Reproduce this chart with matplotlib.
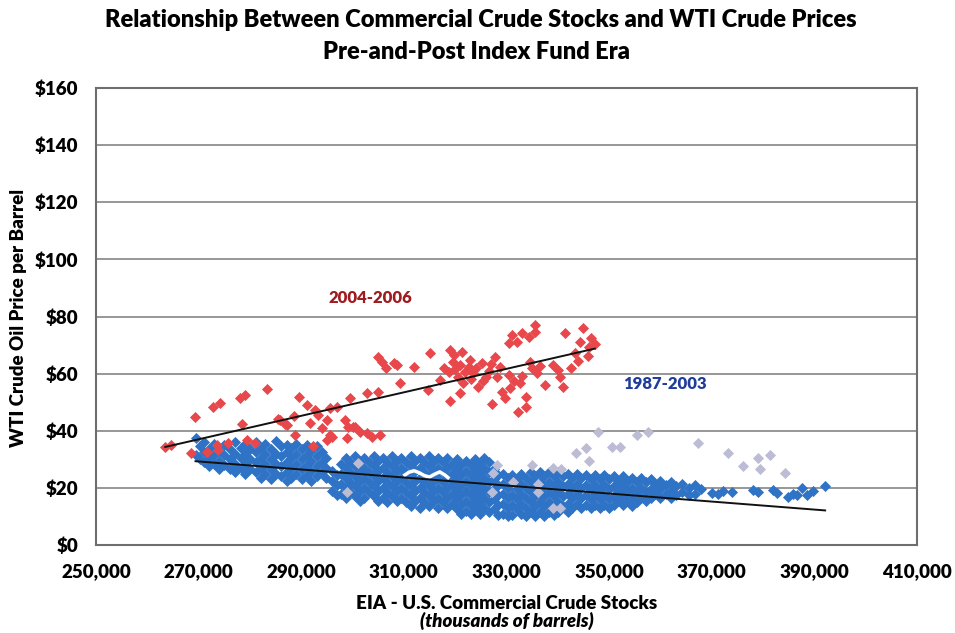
import numpy as np
import matplotlib
matplotlib.use("Agg")
import matplotlib.pyplot as plt
from matplotlib.ticker import FuncFormatter

plt.rcParams['font.family'] = ['Lato', 'DejaVu Sans']

# 1987-2003 weekly points: stock columns (thousand bbl / 1000) and the prices in each column
blue_cols = [269.4, 270.2, 271.0, 272.1, 273.0, 273.9, 275.0, 276.1, 277.0, 278.2,
             279.1, 280.0, 281.2, 282.1, 283.0, 284.2, 285.1, 286.0, 287.2, 288.1,
             289.0, 290.2, 291.1, 292.0, 293.1, 294.0, 294.9,
             296.0, 296.9, 297.8, 298.7, 299.6, 300.5, 301.4, 302.3, 303.2, 304.1,
             305.0, 305.9, 306.8, 307.7, 308.6, 309.5, 310.4, 311.3, 312.2, 313.1,
             314.0, 314.9, 315.8, 316.7, 317.6, 318.5, 319.4, 320.3, 321.2, 322.1,
             323.0, 323.9, 324.8, 325.7, 326.6, 327.5, 328.4, 329.3, 330.2, 331.1,
             332.0, 332.9, 333.8, 334.7, 335.6, 336.5, 337.4, 338.3, 339.2, 340.1,
             341.0, 341.9, 342.8, 343.7, 344.6, 345.5, 346.4, 347.3, 348.2, 349.1,
             350.0, 350.9, 351.8, 352.7, 353.6, 354.5, 355.4, 356.3, 357.2, 358.1,
             359.0, 359.9, 361.0, 362.0, 363.1, 364.3, 365.5, 366.8, 368.0]
blue_vals = [[37.5, 31.5], [34.5, 30.0], [36.0, 32.5, 29.0], [33.5, 30.5, 27.5],
             [35.5, 31.5, 28.5], [33.0, 29.5, 26.5], [35.0, 31.5, 28.0], [33.5, 30.0, 26.5],
             [36.0, 32.0, 28.5, 25.5], [34.0, 30.5, 27.0], [35.5, 32.0, 28.5, 25.0],
             [33.5, 30.0, 26.5], [36.0, 32.5, 29.0, 25.5], [34.0, 30.5, 27.0, 23.5],
             [35.5, 32.0, 28.5, 25.0], [33.5, 30.0, 26.5, 23.0], [36.5, 32.0, 28.5, 25.0],
             [34.5, 31.0, 27.5, 24.0], [35.0, 32.5, 29.0, 25.5, 22.5], [34.0, 30.5, 27.0, 23.5],
             [35.5, 32.0, 28.5, 25.0], [33.5, 30.0, 26.5, 23.0], [35.0, 31.5, 28.0, 24.5],
             [33.0, 29.5, 26.0, 22.5], [34.5, 31.0, 27.5, 24.0], [32.5, 29.0, 25.5],
             [30.5, 27.0, 23.5],
             [26.0, 22.5, 19.0], [24.5, 21.0, 17.5], [28.5, 25.0, 21.5, 18.0],
             [30.5, 27.0, 23.5, 20.0, 16.5], [29.0, 25.5, 22.0, 18.5],
             [31.0, 27.5, 24.0, 20.5, 17.0], [29.5, 26.0, 22.5, 19.0, 15.5],
             [30.5, 27.0, 23.5, 20.0, 16.5], [29.0, 25.5, 22.0, 18.5],
             [31.0, 27.5, 24.0, 20.5, 17.0], [29.5, 26.0, 22.5, 19.0, 15.5],
             [30.5, 27.0, 23.5, 20.0, 16.5], [29.0, 25.5, 22.0, 18.5, 15.0],
             [31.0, 27.5, 24.0, 20.5, 17.0], [29.5, 26.0, 22.5, 19.0, 15.5],
             [30.5, 27.0, 23.5, 20.0, 16.5], [29.0, 25.5, 22.0, 18.5, 15.0],
             [31.0, 27.5, 24.0, 20.5, 17.0, 13.5], [29.5, 26.0, 22.5, 19.0, 15.5],
             [30.5, 27.0, 23.5, 20.0, 16.5, 13.0], [29.0, 25.5, 22.0, 18.5, 15.0],
             [31.0, 27.5, 24.0, 20.5, 17.0, 13.5], [29.5, 26.0, 22.5, 19.0, 15.5],
             [30.5, 27.0, 23.5, 20.0, 16.5, 13.0], [29.0, 25.5, 22.0, 18.5, 15.0],
             [30.5, 27.0, 23.5, 20.0, 16.5, 13.0], [28.5, 25.0, 21.5, 18.0, 14.5],
             [30.0, 26.5, 23.0, 19.5, 16.0, 12.5], [28.0, 24.5, 21.0, 17.5, 14.0, 11.0],
             [29.5, 26.0, 22.5, 19.0, 15.5, 12.0], [28.0, 24.5, 21.0, 17.5, 14.0, 11.0],
             [30.0, 26.5, 23.0, 19.5, 16.0, 12.5], [28.5, 25.0, 21.5, 18.0, 14.5, 11.0],
             [30.5, 27.0, 23.5, 20.0, 16.5, 13.0], [29.0, 25.5, 22.0, 18.5, 15.0, 11.5],
             [26.5, 23.0, 19.5, 16.0, 12.5], [24.5, 21.0, 17.5, 14.0, 10.5],
             [25.0, 21.5, 18.0, 14.5, 11.0], [23.5, 20.0, 16.5, 13.0, 10.0],
             [24.5, 21.0, 17.5, 14.0, 10.5], [23.0, 19.5, 16.0, 12.5],
             [25.0, 21.5, 18.0, 14.5, 11.0], [23.5, 20.0, 16.5, 13.0, 10.0],
             [25.5, 22.0, 18.5, 15.0, 11.5], [24.0, 20.5, 17.0, 13.5, 10.0],
             [25.5, 22.0, 18.5, 15.0, 11.5], [24.0, 20.5, 17.0, 13.5, 10.0],
             [25.5, 22.0, 18.5, 15.0, 11.5], [24.0, 20.5, 17.0, 13.5, 10.5],
             [25.5, 22.0, 18.5, 15.0, 11.5], [24.0, 20.5, 17.0, 13.5],
             [25.0, 21.5, 18.0, 14.5, 11.5], [23.5, 20.0, 16.5, 13.0],
             [25.0, 21.5, 18.0, 14.5], [23.5, 20.0, 16.5, 13.0],
             [24.5, 21.0, 17.5, 14.0], [23.0, 19.5, 16.0, 13.0],
             [24.5, 21.0, 17.5, 14.0], [23.0, 19.5, 16.0, 13.0],
             [24.5, 21.0, 17.5, 14.0], [23.0, 19.5, 16.0, 13.0],
             [24.0, 20.5, 17.0, 14.0], [22.5, 19.0, 15.5],
             [24.0, 20.5, 17.0, 14.0], [22.5, 19.0, 15.5],
             [23.5, 20.0, 16.5, 13.5], [22.0, 18.5, 15.0],
             [23.5, 20.0, 16.5], [22.0, 18.5, 15.5], [23.0, 19.5, 16.5],
             [21.5, 18.0], [22.5, 19.5, 16.5], [21.0, 18.0], [22.0, 19.0, 16.5],
             [20.5, 17.5], [21.5, 18.5], [20.0, 17.5], [21.0, 18.0], [19.5]]
# sparse high-stock weeks
blue_tail_x = [370.0, 371.3, 372.2, 373.9, 378.1, 379.0, 382.0, 382.8, 384.9, 385.9,
               386.6, 387.6, 388.6, 389.8, 392.1]
blue_tail_y = [18.3, 17.9, 19.0, 18.7, 19.3, 18.5, 19.3, 18.2, 16.8, 17.9,
               17.5, 20.0, 17.5, 18.9, 20.7]

# 2004-2006 weekly points
red_x = [263.5, 264.7, 268.6, 269.3, 271.6, 272.9, 273.5, 273.8, 274.2, 275.8,
         278.0, 278.4, 279.0, 279.4, 281.0, 283.3, 285.5, 285.9, 286.8, 287.2,
         288.5, 288.8, 289.6, 291.1, 291.7, 292.3, 292.7, 293.3, 294.0, 295.0,
         295.0, 295.6, 295.6, 295.9, 296.9, 298.5, 298.9, 299.2, 299.5, 300.0,
         300.5, 301.5, 302.8, 302.8, 303.7, 305.0, 305.0, 305.4, 305.7, 306.6,
         308.0, 308.6, 309.3, 311.9, 314.8, 315.1, 317.1, 318.7, 319.0, 319.0,
         319.6, 320.6, 320.9, 321.3, 321.6, 322.6, 322.9, 323.5, 324.5, 325.2,
         326.1, 327.1, 327.8, 328.1, 328.8, 329.1, 329.7, 330.4, 330.4, 330.7,
         331.0, 332.0, 332.3, 332.6, 333.0, 333.9, 333.9, 334.3, 334.9, 335.6,
         335.6, 335.9, 339.1, 340.1, 340.4, 341.1, 341.4, 343.4, 344.3, 345.0,
         346.0, 346.5, 347.2, 345.8, 344.0, 342.5, 317.8, 320.0, 321.0, 323.0,
         324.0, 326.5, 327.0, 319.8, 322.0, 325.5, 331.5, 333.0, 336.5, 337.5,
         334.5]
red_y = [34.4, 35.0, 32.1, 44.9, 32.7, 48.4, 35.0, 33.3, 49.6, 35.6,
         51.5, 42.4, 52.5, 36.8, 35.6, 54.5, 44.0, 43.8, 42.4, 42.0,
         45.2, 38.5, 51.7, 49.0, 42.8, 34.7, 47.3, 45.5, 40.9, 43.8,
         36.8, 47.9, 38.5, 37.9, 48.4, 43.8, 37.5, 41.4, 51.3, 41.3,
         41.4, 39.7, 39.1, 53.1, 37.9, 53.7, 65.9, 38.5, 64.2, 61.9,
         63.6, 63.0, 56.6, 62.4, 54.3, 67.3, 57.8, 60.7, 68.3, 50.5,
         64.2, 58.9, 53.1, 67.7, 56.6, 62.4, 64.8, 60.1, 55.4, 63.6,
         58.9, 49.4, 65.9, 58.9, 62.4, 53.7, 51.3, 70.6, 59.5, 54.9,
         73.5, 71.2, 46.7, 56.6, 74.1, 51.9, 48.4, 72.9, 61.9, 77.0,
         74.7, 60.1, 63.0, 61.3, 58.9, 55.4, 74.1, 67.1, 71.2, 75.9,
         69.4, 72.5, 70.5, 66.0, 64.5, 62.0, 62.0, 61.5, 63.0, 58.0,
         62.0, 61.0, 63.5, 66.5, 60.5, 57.5, 57.5, 59.0, 62.5, 56.0,
         64.0]

# grey weeks sitting above the 1987-2003 band
grey_x = [299.0, 301.0, 327.2, 327.4, 328.2, 331.3, 335.0, 336.2, 336.2, 339.0,
          339.0, 340.6, 340.4, 343.6, 345.5, 346.1, 347.9, 350.6, 352.1, 355.5,
          357.6, 367.3, 373.2, 376.1, 379.0, 379.4, 381.4, 384.3]
grey_y = [18.6, 28.7, 18.6, 25.2, 28.0, 22.0, 28.0, 18.6, 21.5, 27.0,
          13.0, 26.5, 13.0, 32.2, 34.0, 29.5, 39.6, 34.3, 34.3, 38.5,
          39.5, 35.7, 32.2, 27.7, 30.4, 26.6, 31.5, 25.1]

# white trace inside the blue band
white_x = [310.2, 311.0, 312.0, 313.0, 314.0, 315.0, 316.0, 317.0, 318.0, 318.6]
white_y = [24.5, 25.5, 26.0, 25.3, 24.3, 23.8, 24.8, 25.6, 24.5, 23.6]

yticks = [0, 20, 40, 60, 80, 100, 120, 140, 160]
xticks = [250000, 270000, 290000, 310000, 330000, 350000, 370000, 390000, 410000]

blue_x = np.concatenate([[c] * len(v) for c, v in zip(blue_cols, blue_vals)] + [blue_tail_x]) * 1000
blue_y = np.concatenate([np.array(v) for v in blue_vals] + [np.array(blue_tail_y)])
red_xs = np.array(red_x) * 1000
red_ys = np.array(red_y)

fig = plt.figure(figsize=(9.55, 6.33), dpi=100)
ax = fig.add_axes([0.1005, 0.139, 0.8597, 0.722])

ax.set_xlim(250000, 410000)
ax.set_ylim(0, 160)

for y in yticks[1:-1]:
    ax.axhline(y, color='#8f8f8f', lw=1.3, zorder=1)

ax.scatter(blue_x, blue_y, marker='D', s=32, color='#2f73c6', lw=0, zorder=2)
ax.scatter(np.array(grey_x) * 1000, grey_y, marker='D', s=32, color='#bcbdd4', lw=0, zorder=3)
ax.scatter(red_xs, red_ys, marker='D', s=32, color='#e8484b', lw=0, zorder=4)
ax.plot(np.array(white_x) * 1000, white_y, color='white', lw=2.5, zorder=5)

# linear trend lines through each period
bfit = np.polyfit(blue_x, blue_y, 1)
bx = np.array([blue_x.min(), blue_x.max()])
ax.plot(bx, np.polyval(bfit, bx), color='#111111', lw=1.4, zorder=6)
rfit = np.polyfit(red_xs, red_ys, 1)
rx = np.array([red_xs.min(), red_xs.max()])
ax.plot(rx, np.polyval(rfit, rx), color='#111111', lw=1.4, zorder=6)

ax.text(303400, 86.5, '2004-2006', color='#9e1b20', fontsize=12, fontweight='heavy',
        ha='center', va='center')
ax.text(360900, 56.4, '1987-2003', color='#1f3d9c', fontsize=12, fontweight='heavy',
        ha='center', va='center')

ax.set_xticks(xticks)
ax.set_yticks(yticks)
ax.xaxis.set_major_formatter(FuncFormatter(lambda v, p: '{:,}'.format(int(v))))
ax.yaxis.set_major_formatter(FuncFormatter(lambda v, p: '${:d}'.format(int(v))))
ax.tick_params(length=0, labelsize=13.5)
ax.tick_params(axis='y', pad=13)
ax.tick_params(axis='x', pad=13)
for lab in ax.get_xticklabels() + ax.get_yticklabels():
    lab.set_fontweight('heavy')

for s in ax.spines.values():
    s.set_color('#6e6e6e')
    s.set_linewidth(1.5)

fig.text(0.503, 0.968, 'Relationship Between Commercial Crude Stocks and WTI Crude Prices',
         ha='center', va='center', fontsize=17, fontweight='heavy')
fig.text(0.499, 0.918, 'Pre-and-Post Index Fund Era', ha='center', va='center',
         fontsize=17, fontweight='heavy')
fig.text(0.019, 0.498, 'WTI Crude Oil Price per Barrel', rotation=90, ha='center', va='center',
         fontsize=13.5, fontweight='heavy')
fig.text(0.531, 0.047, 'EIA - U.S. Commercial Crude Stocks', ha='center', va='center',
         fontsize=13.5, fontweight='heavy')
fig.text(0.531, 0.019, '(thousands of barrels)', ha='center', va='center',
         fontsize=13.5, fontweight='heavy', style='italic')

fig.savefig('out.png', dpi=100)
